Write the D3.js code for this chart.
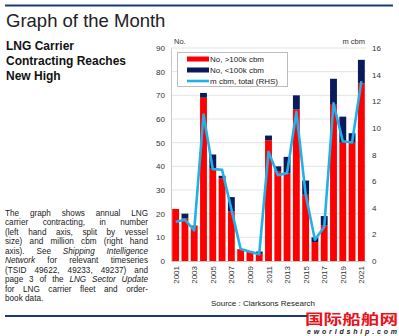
<!DOCTYPE html>
<html>
<head>
<meta charset="utf-8">
<script src="https://cdn.jsdelivr.net/npm/d3@7"></script>
<style>
  html, body { margin: 0; padding: 0; background: #fff; }
  body { width: 399px; height: 336px; position: relative; overflow: hidden; font-family: "Liberation Sans", Arial, sans-serif; }
  #para { position: absolute; left: 5px; top: 209px; width: 143px; font-size: 8.2px; line-height: 9.45px; color: #222; }
  #para div { text-align: justify; text-align-last: justify; white-space: nowrap; }
  #para div.last { text-align-last: left; }
  svg { position: absolute; left: 0; top: 0; }
</style>
</head>
<body>
<svg id="chart" width="399" height="336"></svg>
<div id="para">
  <div>The graph shows annual LNG</div>
  <div>carrier contracting, in number</div>
  <div>(left hand axis, split by vessel</div>
  <div>size) and million cbm (right hand</div>
  <div>axis). See <i>Shipping Intelligence</i></div>
  <div><i>Network</i> for relevant timeseries</div>
  <div>(TSID 49622, 49233, 49237) and</div>
  <div>page 3 of the <i>LNG Sector Update</i></div>
  <div>for LNG carrier fleet and order-</div>
  <div class="last">book data.</div>
</div>
<script>
const years = ["2001","2002","2003","2004","2005","2006","2007","2008","2009","2010","2011","2012","2013","2014","2015","2016","2017","2018","2019","2020","2021"];
const large = [22,18,15,69,39,35,21,5,4,3,51,38,37,64,28,8,15,66,50,50,75];
const small = [0,2,0,2,6,1,6,0,0,1,2,2,7,6,6,2,4,11,11,4,10];
const mcbm = [2.95,3.1,2.3,11.0,6.9,6.85,3.9,0.9,0.7,0.5,8.2,6.45,6.6,11.2,5.0,1.6,2.55,11.85,9.0,8.9,13.5];
const leftTicks = [0,10,20,30,40,50,60,70,80,90];
const rightTicks = [0,2,4,6,8,10,12,14,16];
const xLabels = ["2001","2003","2005","2007","2009","2011","2013","2015","2017","2019","2021"];
const legendItems = ["No, >100k cbm","No, <100k cbm","m cbm, total (RHS)"];

const RED = "#ff0000", NAVY = "#0b1a5a", CYAN = "#1fb2ea";
const svg = d3.select("#chart");
const L = 171, R = 366, T = 48, B = 261;

// header
svg.append("line").attr("x1",5).attr("x2",393).attr("y1",5.5).attr("y2",5.5)
  .attr("stroke","#1d3a78").attr("stroke-width",2);
svg.append("text").attr("x",6).attr("y",27).attr("font-size",18.5).attr("fill","#222")
  .attr("font-family","Liberation Sans, Arial, sans-serif").text("Graph of the Month");
["LNG Carrier","Contracting Reaches","New High"].forEach((t,i)=>{
  svg.append("text").attr("x",6).attr("y",50+i*15).attr("font-size",12).attr("font-weight","bold")
    .attr("fill","#111").text(t);
});

const x = d3.scaleBand().domain(years).range([L,R]).paddingInner(0.26).paddingOuter(0.13);
const yL = d3.scaleLinear().domain([0,90]).range([B,T]);
const yR = d3.scaleLinear().domain([0,16]).range([B,T]);

// gridlines
svg.append("g").selectAll("line").data(leftTicks.slice(1)).join("line")
  .attr("x1",L).attr("x2",R).attr("y1",d=>yL(d)).attr("y2",d=>yL(d))
  .attr("stroke","#e4e4e4").attr("stroke-width",1);

// left axis
const gL = svg.append("g").attr("transform",`translate(${L},0)`)
  .call(d3.axisLeft(yL).tickValues(leftTicks).tickSize(0).tickPadding(6));
gL.select(".domain").attr("stroke","#c8c8c8");
gL.selectAll("text").attr("font-size",8).attr("fill","#333").attr("font-family","Liberation Sans, Arial, sans-serif");

// right axis
const gR = svg.append("g").attr("transform",`translate(${R},0)`)
  .call(d3.axisRight(yR).tickValues(rightTicks).tickSize(0).tickPadding(6));
gR.select(".domain").remove();
gR.selectAll("text").attr("font-size",8).attr("fill","#333").attr("font-family","Liberation Sans, Arial, sans-serif");

// bottom axis
const gB = svg.append("g").attr("transform",`translate(0,${B})`)
  .call(d3.axisBottom(x).tickValues(xLabels).tickSize(0).tickPadding(0));
gB.select(".domain").attr("stroke","#c8c8c8");
gB.selectAll("text").attr("font-size",8).attr("fill","#333").attr("font-family","Liberation Sans, Arial, sans-serif")
  .attr("transform","rotate(-90)").attr("text-anchor","end").attr("dx","-5").attr("dy","3").attr("x",0).attr("y",0)
  .each(function(d){ d3.select(this.parentNode).attr("transform",`translate(${x(d)+x.bandwidth()/2},0)`); });

// bars
const data = years.map((y,i)=>({y, a: large[i], b: small[i], m: mcbm[i]}));
svg.append("g").selectAll("rect").data(data).join("rect")
  .attr("x",d=>x(d.y)).attr("width",x.bandwidth())
  .attr("y",d=>yL(d.a)).attr("height",d=>yL(0)-yL(d.a)).attr("fill",RED);
svg.append("g").selectAll("rect").data(data.filter(d=>d.b>0)).join("rect")
  .attr("x",d=>x(d.y)).attr("width",x.bandwidth())
  .attr("y",d=>yL(d.a+d.b)).attr("height",d=>yL(d.a)-yL(d.a+d.b)).attr("fill",NAVY);

// line
svg.append("path").datum(data)
  .attr("d", d3.line().x(d=>x(d.y)+x.bandwidth()/2).y(d=>yR(d.m)))
  .attr("fill","none").attr("stroke",CYAN).attr("stroke-width",2.6).attr("stroke-linejoin","round");

// axis titles
svg.append("text").attr("x",174).attr("y",44).attr("font-size",7.5).attr("fill","#333").text("No.");
svg.append("text").attr("x",365).attr("y",44).attr("font-size",7.5).attr("fill","#333").attr("text-anchor","end").text("m cbm");

// legend
const lg = svg.append("g");
lg.append("rect").attr("x",177.5).attr("y",52.5).attr("width",110).attr("height",34)
  .attr("fill","#fff").attr("stroke","#bdbdbd").attr("stroke-width",1);
const sw = [{c:RED,h:5},{c:NAVY,h:5},{c:CYAN,h:2.6}];
legendItems.forEach((t,i)=>{
  const cy = 59 + i*11;
  lg.append("rect").attr("x",187).attr("y",cy-sw[i].h/2).attr("width",22).attr("height",sw[i].h).attr("fill",sw[i].c);
  lg.append("text").attr("x",210).attr("y",cy+3).attr("font-size",8).attr("fill","#222").text(t);
});

// source
svg.append("text").attr("x",263).attr("y",306).attr("font-size",8).attr("fill","#222")
  .attr("text-anchor","middle").text("Source : Clarksons Research");

// bottom rule and watermark
svg.append("line").attr("x1",5).attr("x2",307).attr("y1",316).attr("y2",316)
  .attr("stroke","#1d3a78").attr("stroke-width",2);
svg.append("text").attr("x",305).attr("y",324).attr("font-size",14).attr("font-weight","bold")
  .attr("font-family","Noto Sans CJK SC, sans-serif").attr("fill","#e8141c")
  .attr("textLength",93).attr("lengthAdjust","spacingAndGlyphs").text("国际船舶网");
svg.append("text").attr("x",307).attr("y",334).attr("font-size",7).attr("font-weight","bold").attr("font-style","italic")
  .attr("fill","#222").attr("textLength",90).attr("lengthAdjust","spacing").text("eworldship.com");
</script>
</body>
</html>
